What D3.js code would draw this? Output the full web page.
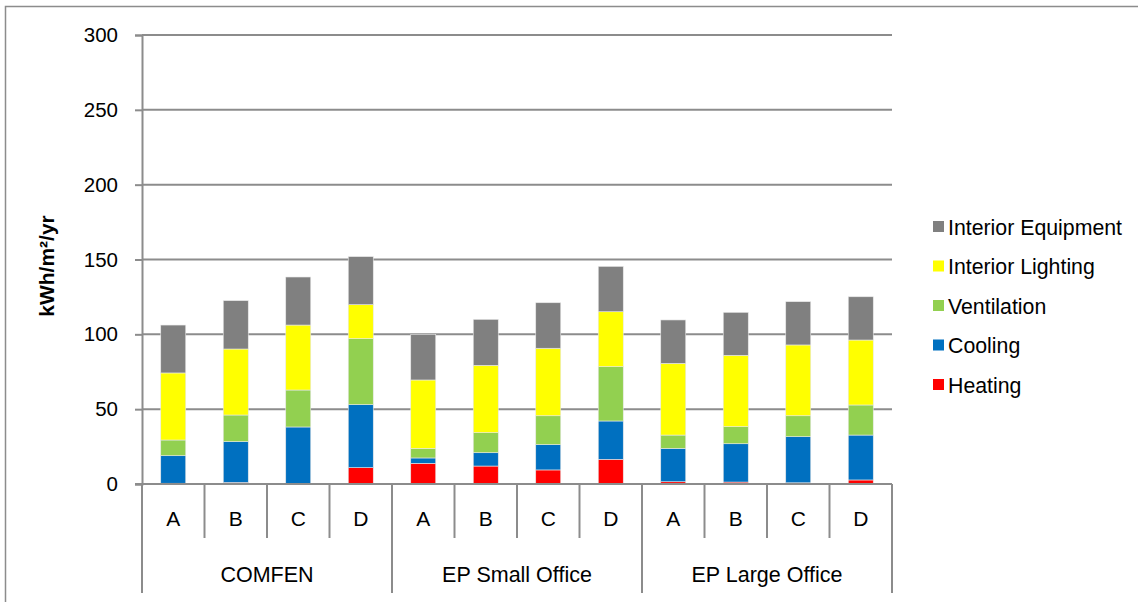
<!DOCTYPE html>
<html>
<head>
<meta charset="utf-8">
<script src="https://cdn.jsdelivr.net/npm/d3@7"></script>
<style>
body { margin: 0; background: white; }
text { font-family: "Liberation Sans", Arial, sans-serif; fill: #000; }
</style>
</head>
<body>
<div id="myVis"></div>
<script>
// data
const groups = ["COMFEN", "EP Small Office", "EP Large Office"]
const cases = ["A", "B", "C", "D"]
const series = ["Heating", "Cooling", "Ventilation", "Interior Lighting", "Interior Equipment"]
const colors = ["#FF0000", "#0070C0", "#92D050", "#FFFF00", "#808080"]

const heating    = [0.5, 1.0, 0.3, 10.9,  13.8, 12.0, 9.4, 16.5,  1.5, 1.3, 0.8, 2.7]
const cooling    = [18.4, 27.3, 37.8, 42.1,  3.6, 8.9, 16.9, 25.6,  22.3, 25.6, 30.8, 30.0]
const ventilation = [10.5, 17.8, 24.7, 44.1,  6.4, 13.4, 19.3, 36.3,  8.9, 11.4, 14.0, 20.1]
const lighting   = [44.8, 44.1, 43.4, 22.7,  45.7, 45.0, 45.1, 36.7,  47.9, 47.7, 47.3, 43.4]
const equipment  = [32.0, 32.3, 32.1, 32.1,  30.5, 30.7, 30.4, 30.3,  29.0, 28.7, 28.9, 28.9]

const yTicks = [0, 50, 100, 150, 200, 250, 300]

const width = 1138, height = 602
const plotLeft = 142, plotRight = 892, plotTop = 35, plotBottom = 484

const svg = d3.select("#myVis")
    .append("svg")
        .attr("width", width)
        .attr("height", height)
        .style("background-color", "white")

// outer frame (runs off the right and bottom of the picture)
svg.append("rect")
    .attr("x", 5.5).attr("y", 6.5)
    .attr("width", 1200).attr("height", 700)
    .attr("fill", "none")
    .attr("stroke", "#8c8c8c")
    .attr("stroke-width", 1.5)

// one row per bar
const rows = []
groups.forEach((g, gi) => {
    cases.forEach((c, ci) => {
        const i = gi * cases.length + ci
        rows.push({key: g + "|" + c, group: g, name: c,
            Heating: heating[i], Cooling: cooling[i], Ventilation: ventilation[i],
            "Interior Lighting": lighting[i], "Interior Equipment": equipment[i]})
    })
})

const x = d3.scaleBand()
    .domain(rows.map(d => d.key))
    .range([plotLeft, plotRight])
    .paddingInner(0.6)
    .paddingOuter(0.3)

const y = d3.scaleLinear().domain([0, 300]).range([plotBottom, plotTop])

const color = d3.scaleOrdinal().domain(series).range(colors)

// gridlines
svg.append("g")
    .selectAll("line")
    .data(yTicks.filter(d => d > 0))
    .enter()
    .append("line")
        .attr("x1", plotLeft).attr("x2", plotRight)
        .attr("y1", d => y(d)).attr("y2", d => y(d))
        .attr("stroke", "#8c8c8c")
        .attr("stroke-width", 2)

// y axis
const yAxis = svg.append("g")
    .attr("transform", "translate(" + plotLeft + ",0)")
    .call(d3.axisLeft(y).tickValues(yTicks).tickSize(7).tickPadding(17))
yAxis.select(".domain").attr("stroke", "#8c8c8c").attr("stroke-width", 2)
yAxis.selectAll(".tick line").attr("stroke", "#8c8c8c").attr("stroke-width", 2)
yAxis.selectAll(".tick text")
    .style("font-family", "Liberation Sans, Arial, sans-serif")
    .style("font-size", "20.5px")
    .attr("fill", "#000")

// y axis title
svg.append("text")
    .attr("transform", "translate(54,266) rotate(-90)")
    .attr("text-anchor", "middle")
    .style("font-size", "21px")
    .style("font-weight", "bold")
    .text("kWh/m²/yr")

// stacked bars
const stacked = d3.stack().keys(series)(rows)

svg.append("g")
    .selectAll("g")
    .data(stacked)
    .enter()
    .append("g")
        .attr("fill", d => color(d.key))
    .selectAll("rect")
    .data(d => d)
    .enter()
    .append("rect")
        .attr("x", d => x(d.data.key))
        .attr("y", d => y(d[1]))
        .attr("width", x.bandwidth())
        .attr("height", d => y(d[0]) - y(d[1]))
        .attr("stroke", "#e8e8e8")
        .attr("stroke-width", 0.6)

// category axis, two levels
const axisColor = "#8c8c8c"
const step = x.step()
const catAxis = svg.append("g")

catAxis.append("line")
    .attr("x1", plotLeft - 7).attr("x2", plotRight)
    .attr("y1", plotBottom).attr("y2", plotBottom)
    .attr("stroke", axisColor).attr("stroke-width", 2)

// boundaries between cases
const bounds = d3.range(rows.length + 1).map(i => plotLeft + i * step)
catAxis.selectAll(".b")
    .data(bounds)
    .enter()
    .append("line")
        .attr("x1", d => d).attr("x2", d => d)
        .attr("y1", plotBottom)
        .attr("y2", (d, i) => i % cases.length == 0 ? 593 : 538)
        .attr("stroke", axisColor).attr("stroke-width", 2)

catAxis.selectAll(".c")
    .data(rows)
    .enter()
    .append("text")
        .attr("x", d => x(d.key) + x.bandwidth() / 2)
        .attr("y", 526)
        .attr("text-anchor", "middle")
        .style("font-size", "21px")
        .text(d => d.name)

catAxis.selectAll(".g")
    .data(groups)
    .enter()
    .append("text")
        .attr("x", (d, i) => plotLeft + (i + 0.5) * cases.length * step)
        .attr("y", 582)
        .attr("text-anchor", "middle")
        .style("font-size", "21.5px")
        .text(d => d)

// legend, top entry is the top of the stack
const legendItems = series.slice().reverse()
const legend = svg.append("g")
    .selectAll("g")
    .data(legendItems)
    .enter()
    .append("g")
        .attr("transform", (d, i) => "translate(933," + (227 + i * 39.5) + ")")

legend.append("rect")
    .attr("x", 0).attr("y", -6)
    .attr("width", 11).attr("height", 11)
    .attr("fill", d => color(d))

legend.append("text")
    .attr("x", 15).attr("y", 7.5)
    .style("font-size", "21.3px")
    .text(d => d)
</script>
</body>
</html>
